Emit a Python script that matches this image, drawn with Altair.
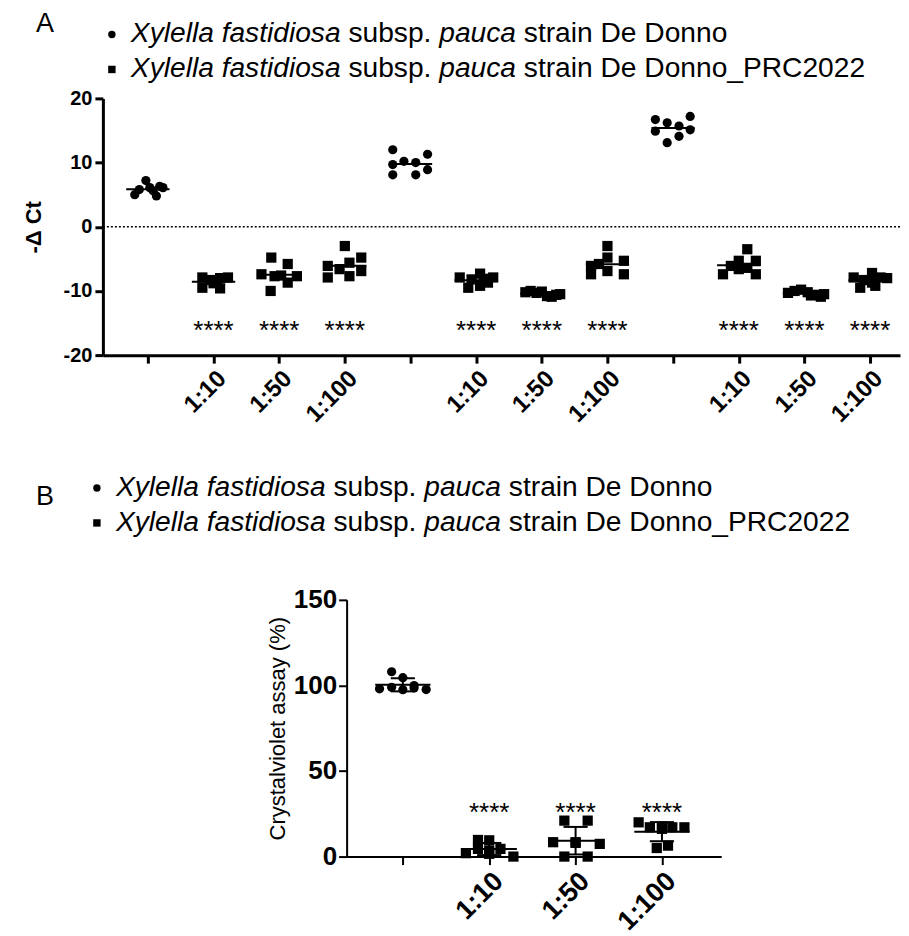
import json
import altair as alt
import pandas as pd

FONT = "Liberation Sans"

# ---------------- Panel A data ----------------
a_labels = ["", "1:10", "1:50", "1:100"] * 3
a_strain = ["De Donno", "PRC2022", "PRC2022", "PRC2022"] * 3
a_offsets = [
    [-0.20, -0.13, -0.03, 0.03, 0.13, 0.18, 0.23, 0.08],
    [-0.17, -0.17, -0.05, 0.00, 0.10, 0.10, 0.22, 0.05],
    [-0.27, -0.12, -0.07, -0.13, 0.13, 0.13, 0.27, 0.03],
    [-0.26, -0.26, 0.00, -0.08, 0.07, 0.07, 0.25, 0.25],
    [-0.27, -0.27, -0.27, -0.10, 0.08, 0.08, 0.26, 0.26],
    [-0.25, -0.12, 0.06, 0.06, 0.18, 0.26, -0.07, 0.12],
    [-0.25, -0.17, -0.08, 0.00, 0.08, 0.15, 0.22, 0.28],
    [0.00, 0.00, -0.25, -0.25, -0.13, 0.00, 0.25, 0.25],
    [-0.27, -0.27, -0.09, -0.09, 0.09, 0.09, 0.26, 0.26],
    [-0.24, -0.12, 0.00, 0.13, 0.13, 0.26, 0.26, 0.00],
    [-0.25, -0.15, -0.05, 0.05, 0.10, 0.17, 0.25, 0.30],
    [-0.25, -0.15, 0.03, 0.03, 0.16, 0.26, 0.08, -0.10],
]
a_values = [
    [5.0, 5.8, 7.2, 6.1, 4.8, 6.3, 6.1, 5.6],
    [-7.9, -9.5, -8.3, -8.8, -9.6, -8.0, -7.9, -8.6],
    [-7.4, -4.8, -7.7, -10.0, -5.8, -8.7, -7.7, -7.6],
    [-6.1, -7.9, -3.0, -6.6, -5.6, -7.7, -4.8, -6.9],
    [12.0, 9.7, 8.1, 10.2, 10.0, 8.1, 11.3, 8.9],
    [-7.9, -9.5, -7.3, -9.2, -8.7, -7.9, -8.2, -8.1],
    [-10.2, -10.0, -10.3, -10.1, -10.8, -10.9, -10.6, -10.5],
    [-3.0, -4.8, -6.1, -7.4, -5.8, -6.9, -5.3, -7.4],
    [16.7, 14.9, 16.2, 13.1, 15.7, 14.1, 17.2, 15.1],
    [-7.4, -6.1, -5.3, -3.5, -6.4, -5.3, -7.4, -6.6],
    [-10.3, -10.0, -9.8, -10.2, -10.7, -10.6, -10.9, -10.5],
    [-7.9, -9.5, -7.2, -8.7, -7.9, -8.0, -9.2, -8.3],
]
a_sig_text = "****"
a_sig_y = -15.5

# ---------------- Panel B data ----------------
b_labels = ["", "1:10", "1:50", "1:100"]
b_strain = ["De Donno", "PRC2022", "PRC2022", "PRC2022"]
b_offsets = [
    [-0.27, -0.13, -0.13, 0.00, 0.00, 0.13, 0.27, 0.13],
    [-0.27, -0.13, -0.13, 0.00, 0.00, 0.13, 0.28, 0.00],
    [-0.26, -0.13, -0.13, 0.00, 0.14, 0.14, 0.28, 0.00],
    [-0.27, -0.14, 0.00, 0.12, 0.26, -0.06, 0.07, 0.00],
]
b_values = [
    [98.0, 108.0, 98.9, 97.5, 104.5, 99.9, 97.6, 98.5],
    [2.0, 9.7, 4.5, 9.5, 1.6, 4.5, 0.0, 3.5],
    [8.4, 21.0, 0.0, 8.4, 21.0, 0.0, 7.4, 8.0],
    [20.0, 17.1, 16.2, 17.1, 17.1, 5.0, 6.4, 17.5],
]
b_sig_y = 29.4

legend_segments = [("Xylella fastidiosa", "italic"), ("subsp.", "normal"),
                   ("pauca", "italic"), ("strain De Donno", "normal")]

# ---------------- helpers ----------------
ARIAL = {" ": 278, "X": 667, "y": 500, "l": 222, "e": 556, "a": 556, "f": 278,
         "s": 500, "t": 278, "i": 222, "d": 556, "o": 556, "u": 556, "b": 556,
         "p": 556, ".": 278, "c": 500, "r": 333, "n": 556, "D": 722, "_": 556,
         "P": 667, "R": 722, "C": 722, "2": 556, "0": 556}


def tw(s, size):
    return sum(ARIAL.get(ch, 556) for ch in s) * size / 1000.0


one = pd.DataFrame({"k": [0]})
LEG_SIZE = 28.2


def legend_line(x0, y, suffix, size, shape, msize):
    layers = [alt.Chart(one).mark_point(shape=shape, filled=True, opacity=1,
                                        color="black", size=msize, strokeWidth=0)
              .encode(x=alt.value(x0 - 19), y=alt.value(y))]
    segs = list(legend_segments)
    segs[-1] = (segs[-1][0] + suffix, segs[-1][1])
    x = x0
    for txt, style in segs:
        layers.append(alt.Chart(one).mark_text(text=txt, font=FONT, fontSize=size,
                                               fontStyle=style, align="left",
                                               baseline="middle", color="black")
                      .encode(x=alt.value(x), y=alt.value(y)))
        x += tw(txt + " ", size)
    return layers


def build(offsets, values, strains):
    rows = []
    for g, (offs, vals) in enumerate(zip(offsets, values)):
        for o, v in zip(offs, vals):
            rows.append({"group": g, "off": o, "value": v, "strain": strains[g]})
    return pd.DataFrame(rows)


dfA = build(a_offsets, a_values, a_strain)
dfB = build(b_offsets, b_values, b_strain)

shape_scale = alt.Scale(domain=["De Donno", "PRC2022"], range=["circle", "square"])

# ---------------- Panel A ----------------
WA, HA = 798, 257
xA_scale = alt.Scale(domain=[-0.685, 11.456], nice=False, zero=False)
yA_scale = alt.Scale(domain=[-20, 20], nice=False)

xA_axis = alt.Axis(values=list(range(12)), labelExpr=json.dumps(a_labels) + "[datum.value]",
                   title=None, grid=False, domainWidth=3, domainColor="black",
                   tickWidth=3, tickSize=8, tickColor="black", labelFont=FONT,
                   labelFontSize=24, labelFontWeight="bold", labelAngle=-45,
                   labelColor="black", labelPadding=3)
yA_axis = alt.Axis(values=[-20, -10, 0, 10, 20], labelExpr="datum.value + ''",
                   title="-Δ Ct", grid=False,
                   domainWidth=3, domainColor="black", tickWidth=3, tickSize=8,
                   tickColor="black", labelFont=FONT, labelFontSize=20,
                   labelFontWeight="bold", labelColor="black", labelPadding=3,
                   titleFont=FONT, titleFontSize=22, titleFontWeight="bold",
                   titleColor="black", titleX=-69, titleY=HA / 2, titleAngle=-90,
                   titleAlign="center", titleBaseline="middle")

ptsA = alt.Chart(dfA).transform_calculate(xpos="datum.group + datum.off").mark_point(
    filled=True, opacity=1, color="black", strokeWidth=0).encode(
    x=alt.X("xpos:Q", scale=xA_scale, axis=xA_axis),
    y=alt.Y("value:Q", scale=yA_scale, axis=yA_axis),
    shape=alt.Shape("strain:N", scale=shape_scale, legend=None),
    size=alt.Size("strain:N", scale=alt.Scale(domain=["De Donno", "PRC2022"], range=[85, 105]), legend=None),
)
meanA = alt.Chart(dfA).transform_aggregate(
    mean="mean(value)", groupby=["group"]).transform_calculate(
    x1="datum.group - 0.33", x2="datum.group + 0.33").mark_rule(
    color="black", strokeWidth=2).encode(x="x1:Q", x2="x2:Q", y="mean:Q")
zeroA = alt.Chart(pd.DataFrame({"y": [0]})).mark_rule(
    color="black", strokeWidth=1.5, strokeDash=[2, 2]).encode(y="y:Q")
sig_groups_A = [i for i, l in enumerate(a_labels) if l]
sigA = alt.Chart(pd.DataFrame({"group": sig_groups_A, "y": [a_sig_y] * len(sig_groups_A)})).mark_text(
    text=a_sig_text, font=FONT, fontSize=26, baseline="alphabetic", dy=13, color="black").encode(
    x="group:Q", y="y:Q")

labA = alt.Chart(one).mark_text(text="A", font=FONT, fontSize=27, align="center",
                                baseline="middle", color="black").encode(
    x=alt.value(-58), y=alt.value(-74))
legA = legend_line(28, -64, "", LEG_SIZE, "circle", 55) + \
    legend_line(28, -29, "_PRC2022", LEG_SIZE, "square", 55)

panelA = alt.layer(zeroA, meanA, ptsA, sigA, labA, *legA).properties(width=WA, height=HA)

# ---------------- Panel B ----------------
WB, HB = 375, 257
xB_scale = alt.Scale(domain=[-0.651, 3.686], nice=False, zero=False)
yB_scale = alt.Scale(domain=[0, 150], nice=False)
xB_axis = alt.Axis(values=list(range(4)), labelExpr=json.dumps(b_labels) + "[datum.value]",
                   title=None, grid=False, domainWidth=2, domainColor="black",
                   tickWidth=2, tickSize=8, tickColor="black", labelFont=FONT,
                   labelFontSize=27, labelFontWeight="bold", labelAngle=-45,
                   labelColor="black", labelPadding=3)
yB_axis = alt.Axis(values=[0, 50, 100, 150], title="Crystalviolet assay (%)", grid=False,
                   domainWidth=2, domainColor="black", tickWidth=2, tickSize=8,
                   tickColor="black", labelFont=FONT, labelFontSize=26,
                   labelFontWeight="bold", labelColor="black", labelPadding=2,
                   titleFont=FONT, titleFontSize=22, titleFontWeight="normal",
                   titleColor="black", titleX=-69, titleY=HB / 2, titleAngle=-90,
                   titleAlign="center", titleBaseline="middle")

ptsB = alt.Chart(dfB).transform_calculate(xpos="datum.group + datum.off").mark_point(
    filled=True, opacity=1, color="black", strokeWidth=0).encode(
    x=alt.X("xpos:Q", scale=xB_scale, axis=xB_axis),
    y=alt.Y("value:Q", scale=yB_scale, axis=yB_axis),
    shape=alt.Shape("strain:N", scale=shape_scale, legend=None),
    size=alt.Size("strain:N", scale=alt.Scale(domain=["De Donno", "PRC2022"], range=[95, 120]), legend=None),
)
statsB = alt.Chart(dfB).transform_aggregate(
    mean="mean(value)", sd="stdev(value)", groupby=["group"]).transform_calculate(
    lo="datum.mean - datum.sd", hi="datum.mean + datum.sd",
    x1="datum.group - 0.32", x2="datum.group + 0.32",
    c1="datum.group - 0.14", c2="datum.group + 0.14")
meanB = statsB.mark_rule(color="black", strokeWidth=2).encode(x="x1:Q", x2="x2:Q", y="mean:Q")
barB = statsB.mark_rule(color="black", strokeWidth=2).encode(x="group:Q", y="lo:Q", y2="hi:Q")
capLoB = statsB.mark_rule(color="black", strokeWidth=2).encode(x="c1:Q", x2="c2:Q", y="lo:Q")
capHiB = statsB.mark_rule(color="black", strokeWidth=2).encode(x="c1:Q", x2="c2:Q", y="hi:Q")
sig_groups_B = [i for i, l in enumerate(b_labels) if l]
sigB = alt.Chart(pd.DataFrame({"group": sig_groups_B, "y": [b_sig_y] * len(sig_groups_B)})).mark_text(
    text=a_sig_text, font=FONT, fontSize=26, baseline="alphabetic", dy=15, color="black").encode(
    x="group:Q", y="y:Q")
labB = alt.Chart(one).mark_text(text="B", font=FONT, fontSize=27, align="center",
                                baseline="middle", color="black").encode(
    x=alt.value(-302), y=alt.value(-103))
legB = legend_line(-231, -112, "", LEG_SIZE, "circle", 55) + \
    legend_line(-231, -77, "_PRC2022", LEG_SIZE, "square", 55)

panelB = alt.layer(ptsB, barB, capLoB, capHiB, meanB, sigB, labB, *legB).properties(width=WB, height=HB)

spacer = alt.Chart(one).mark_text(text="").encode(
    x=alt.value(0), y=alt.value(0)).properties(width=244, height=HB)

rowB = alt.hconcat(spacer, panelB, spacing=0, bounds="flush")

chart = alt.vconcat(panelA, rowB, spacing=245, bounds="flush").properties(
    padding={"left": 15, "top": 2, "right": 0, "bottom": 0},
    background="white"
).configure_view(stroke=None)

chart.save("out.html", embed_options={"renderer": "svg", "actions": False})
